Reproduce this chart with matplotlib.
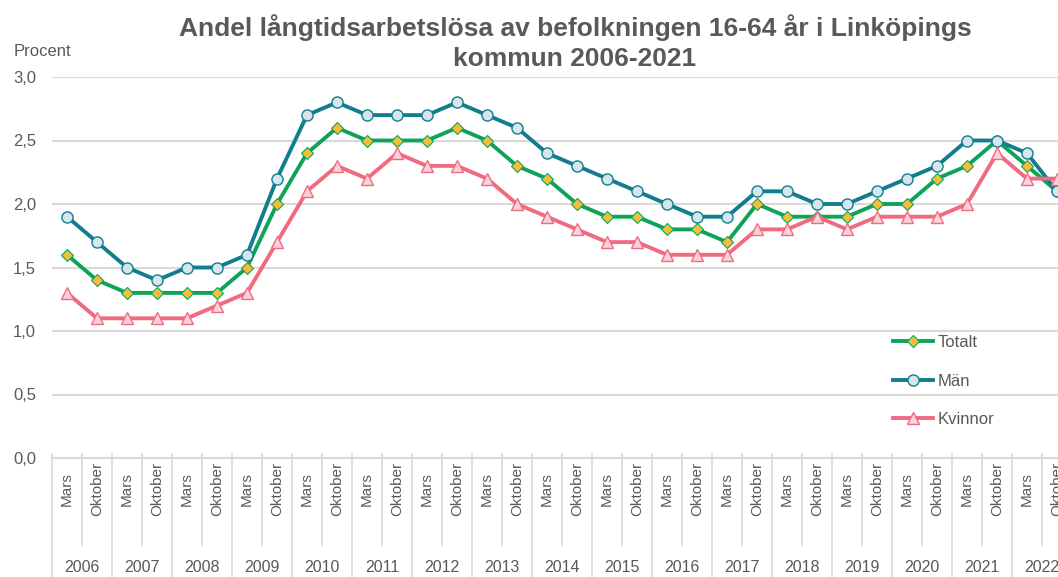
import matplotlib
matplotlib.use("Agg")
import matplotlib.pyplot as plt
import matplotlib.transforms as mtransforms
import numpy as np

plt.rcParams["font.family"] = ["Liberation Sans", "DejaVu Sans"]

years = [str(y) for y in range(2006, 2023)]
months = ["Mars", "Oktober"]

totalt = [1.6, 1.4, 1.3, 1.3, 1.3, 1.3, 1.5, 2.0, 2.4, 2.6, 2.5, 2.5,
          2.5, 2.6, 2.5, 2.3, 2.2, 2.0, 1.9, 1.9, 1.8, 1.8, 1.7, 2.0,
          1.9, 1.9, 1.9, 2.0, 2.0, 2.2, 2.3, 2.5, 2.3, 2.1]
man = [1.9, 1.7, 1.5, 1.4, 1.5, 1.5, 1.6, 2.2, 2.7, 2.8, 2.7, 2.7,
       2.7, 2.8, 2.7, 2.6, 2.4, 2.3, 2.2, 2.1, 2.0, 1.9, 1.9, 2.1,
       2.1, 2.0, 2.0, 2.1, 2.2, 2.3, 2.5, 2.5, 2.4, 2.1]
kvinnor = [1.3, 1.1, 1.1, 1.1, 1.1, 1.2, 1.3, 1.7, 2.1, 2.3, 2.2, 2.4,
           2.3, 2.3, 2.2, 2.0, 1.9, 1.8, 1.7, 1.7, 1.6, 1.6, 1.6, 1.8,
           1.8, 1.9, 1.8, 1.9, 1.9, 1.9, 2.0, 2.4, 2.2, 2.2]

title = "Andel långtidsarbetslösa av befolkningen 16-64 år i Linköpings\nkommun 2006-2021"
text_col = "#595959"
grid_col = "#D9D9D9"

W, H = 1058, 577
fig = plt.figure(figsize=(W / 100, H / 100), dpi=100)
# plot area in pixels (reference runs past the right edge)
x0, x1, ytop, ybot = 52, 1072, 77, 458
ax = fig.add_axes([x0 / W, (H - ybot) / H, (x1 - x0) / W, (ybot - ytop) / H])

x = np.arange(len(totalt))
ax.plot(x, totalt, color="#0FA35A", lw=2.8, marker="D", ms=6,
        mfc="#F5BE3A", mec="#0FA35A", mew=0.8, label="Totalt", zorder=3)
ax.plot(x, man, color="#127D8E", lw=2.8, marker="o", ms=8,
        mfc="#D6E6EB", mec="#127D8E", mew=1.0, label="Män", zorder=4)
ax.plot(x, kvinnor, color="#F06A80", lw=2.8, marker="^", ms=8,
        mfc="#FAD3DA", mec="#F06A80", mew=1.0, label="Kvinnor", zorder=5)

ax.set_xlim(-0.5, len(totalt) - 0.5)
ax.set_ylim(0, 3.0)
ax.set_yticks(np.arange(0, 3.01, 0.5))
ax.set_yticklabels([f"{v:.1f}".replace(".", ",") for v in np.arange(0, 3.01, 0.5)])
ax.tick_params(axis="y", length=0, pad=28, labelsize=12, labelcolor=text_col)
for lab in ax.get_yticklabels():
    lab.set_horizontalalignment("left")
ax.set_xticks([])
ax.grid(axis="y", color=grid_col, lw=1.5)
ax.set_axisbelow(True)
for s in ["top", "right", "left"]:
    ax.spines[s].set_visible(False)
ax.spines["bottom"].set_color(grid_col)
ax.spines["bottom"].set_linewidth(1.5)

# two-level category axis
hpx = ybot - ytop
def yfrac(py):
    return (ybot - py) / hpx

trans = mtransforms.blended_transform_factory(ax.transData, ax.transAxes)
for i in range(len(totalt)):
    ax.text(i, yfrac(489), months[i % 2], rotation=90, ha="center", va="center",
            fontsize=11, color=text_col, transform=trans, clip_on=False)
for i in range(len(totalt) + 1):
    bottom = yfrac(577) if i % 2 == 0 else yfrac(545)
    ax.plot([i - 0.5, i - 0.5], [yfrac(454), bottom], color=grid_col, lw=1.2,
            transform=trans, clip_on=False)
for j, yr in enumerate(years):
    ax.text(2 * j + 0.5, yfrac(567), yr, ha="center", va="center",
            fontsize=11.5, color=text_col, transform=trans, clip_on=False)

fig.text(575 / W, 1 - 14 / H, title, ha="center", va="top", fontsize=19,
         fontweight="bold", color=text_col, linespacing=1.35)
fig.text(14 / W, 1 - 52 / H, "Procent", ha="left", va="center",
         fontsize=12, color=text_col)

leg = ax.legend(loc="center left", bbox_to_anchor=(893 / W, (H - 381) / H),
                bbox_transform=fig.transFigure, frameon=False, fontsize=12,
                handlelength=2.4, handletextpad=0.25, labelspacing=1.4,
                borderpad=0, borderaxespad=0)
for t in leg.get_texts():
    t.set_color(text_col)

fig.savefig("out.png", dpi=100)
